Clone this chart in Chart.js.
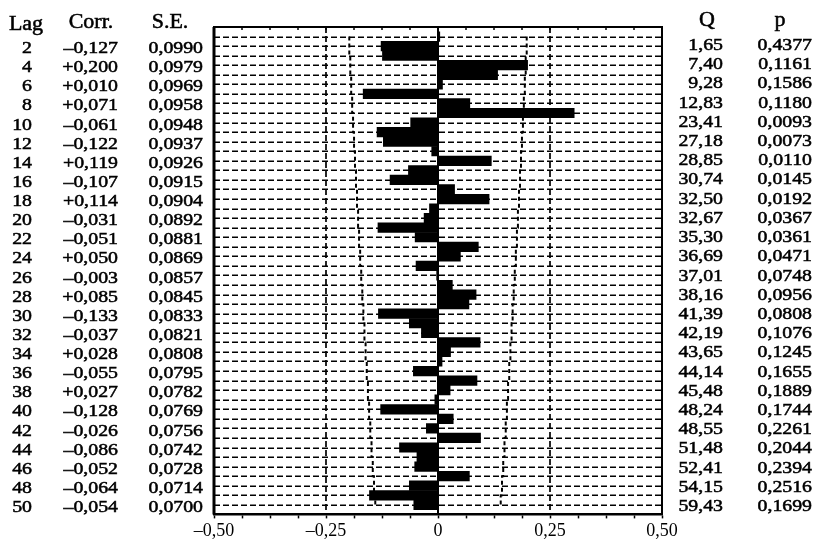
<!DOCTYPE html>
<html>
<head>
<meta charset="utf-8">
<script src="https://cdn.jsdelivr.net/npm/chart.js@4.4.1/dist/chart.umd.min.js"></script>
<style>
  html, body { margin: 0; padding: 0; background: #fff; }
  #wrap { width: 816px; height: 548px; position: relative; }
</style>
</head>
<body>
<div id="wrap"><canvas id="acf" width="816" height="548"></canvas></div>
<script>
// Autocorrelation function, lags 1..50 (table lists every second lag)
const tableLags = [2, 4, 6, 8, 10, 12, 14, 16, 18, 20, 22, 24, 26, 28, 30, 32, 34, 36, 38, 40, 42, 44, 46, 48, 50];
const corrTable = [-0.127, 0.200, 0.010, 0.071, -0.061, -0.122, 0.119, -0.107, 0.114, -0.031, -0.051, 0.050, -0.003,
                   0.085, -0.133, -0.037, 0.028, -0.055, 0.027, -0.128, -0.026, -0.086, -0.052, -0.064, -0.054];
const seTable = [0.0990, 0.0979, 0.0969, 0.0958, 0.0948, 0.0937, 0.0926, 0.0915, 0.0904, 0.0892, 0.0881, 0.0869, 0.0857,
                 0.0845, 0.0833, 0.0821, 0.0808, 0.0795, 0.0782, 0.0769, 0.0756, 0.0742, 0.0728, 0.0714, 0.0700];
const qTable = [1.65, 7.40, 9.28, 12.83, 23.41, 27.18, 28.85, 30.74, 32.50, 32.67, 35.30, 36.69, 37.01,
                38.16, 41.39, 42.19, 43.65, 44.14, 45.48, 48.24, 48.55, 51.48, 52.41, 54.15, 59.43];
const pTable = [0.4377, 0.1161, 0.1586, 0.1180, 0.0093, 0.0073, 0.0110, 0.0145, 0.0192, 0.0367, 0.0361, 0.0471, 0.0748,
                0.0956, 0.0808, 0.1076, 0.1245, 0.1655, 0.1889, 0.1744, 0.2261, 0.2044, 0.2394, 0.2516, 0.1699];
// Correlations at the odd lags 1, 3, ..., 49 (bars only, not listed in the table)
const oddLagCorr = [0.004, -0.124, 0.133, -0.167, 0.304, -0.136, -0.014, -0.066, 0.037, -0.019, -0.134, 0.090, -0.049,
                    0.032, 0.069, -0.064, 0.094, 0.009, 0.087, -0.007, 0.034, 0.095, -0.047, 0.070, -0.153];
const xTickValues = [-0.5, -0.25, 0, 0.25, 0.5];
const maxLag = 50;

// Interleave odd and even lags into one series
const lagsAll = [], corrAll = [];
tableLags.forEach((lag, i) => {
  lagsAll.push(lag - 1, lag);
  corrAll.push(oddLagCorr[i], corrTable[i]);
});

// ±2·S.E. confidence limits as a stepped line
function bandPoints(sign) {
  const pts = [];
  tableLags.forEach((lag, i) => {
    const v = sign * 2 * seTable[i];
    pts.push({ x: v, y: lag - 1 });
    pts.push({ x: v, y: Math.min(lag + 1, maxLag) });
  });
  return pts;
}

const SERIF = '"Liberation Serif", "Times New Roman", serif';
const dash = s => s.replace('-', '\u2013');
const fmtNum = (v, d) => dash(v.toFixed(d)).replace('.', ',');
const fmtCorr = v => (v >= 0 ? '+' : '\u2013') + Math.abs(v).toFixed(3).replace('.', ',');
const fmtAxis = v => v === 0 ? '0' : (v < 0 ? '\u2013' : '') + Math.abs(v).toFixed(2).replace('.', ',');

function wideText(ctx, str, x, y, align, sx) {
  ctx.save();
  ctx.translate(x, y);
  ctx.scale(sx, 1);
  ctx.textAlign = align;
  ctx.textBaseline = 'alphabetic';
  ctx.fillText(str, 0, 0);
  ctx.strokeText(str, 0, 0);
  ctx.restore();
}

const framePlugin = {
  id: 'acfFrame',
  beforeDatasetsDraw(chart) {
    const { ctx, chartArea: a, scales: { x, y } } = chart;
    ctx.save();
    ctx.strokeStyle = '#000';
    ctx.lineWidth = 1.7;
    ctx.setLineDash([6, 3]);
    for (let lag = 1; lag <= maxLag; lag++) {
      const py = Math.round(y.getPixelForValue(lag)) + 0.25;
      ctx.beginPath();
      ctx.moveTo(a.left, py);
      ctx.lineTo(a.right, py);
      ctx.stroke();
    }
    [-0.25, 0.25].forEach(v => {
      const px = x.getPixelForValue(v);
      ctx.beginPath();
      ctx.moveTo(px, a.top);
      ctx.lineTo(px, a.bottom);
      ctx.stroke();
    });
    ctx.restore();
  },
  afterDatasetsDraw(chart) {
    const { ctx, chartArea: a, scales: { x } } = chart;
    ctx.save();
    ctx.strokeStyle = '#000';
    // zero line
    ctx.lineWidth = 2;
    const z = x.getPixelForValue(0);
    ctx.beginPath();
    ctx.moveTo(z, a.top);
    ctx.lineTo(z, a.bottom);
    ctx.stroke();
    // frame
    ctx.lineWidth = 2;
    ctx.beginPath();
    ctx.moveTo(a.left, a.bottom);
    ctx.lineTo(a.left, a.top);
    ctx.lineTo(a.right, a.top);
    ctx.lineTo(a.right, a.bottom);
    ctx.stroke();
    ctx.lineWidth = 3;
    ctx.beginPath();
    ctx.moveTo(a.left, a.bottom);
    ctx.lineTo(a.left, a.top);
    ctx.stroke();
    // small inward ticks on the top edge
    ctx.lineWidth = 1.5;
    x.ticks.forEach(t => {
      const px = x.getPixelForValue(t.value);
      ctx.beginPath();
      ctx.moveTo(px, a.top);
      ctx.lineTo(px, a.top + 3);
      ctx.stroke();
    });
    ctx.restore();
  },
  afterDraw(chart) {
    const { ctx } = chart;
    ctx.save();
    ctx.fillStyle = '#000';
    ctx.strokeStyle = '#000';
    ctx.lineWidth = 0.5;
    // headers
    ctx.font = '20px ' + SERIF;
    wideText(ctx, 'Lag', 26, 30, 'center', 1.1);
    wideText(ctx, 'Corr.', 91, 28, 'center', 1.1);
    wideText(ctx, 'S.E.', 170, 28, 'center', 1.1);
    wideText(ctx, 'Q', 707, 26, 'center', 1.1);
    wideText(ctx, 'p', 780, 26, 'center', 1.1);
    // table rows
    ctx.font = '16.5px ' + SERIF;
    const n = tableLags.length;
    for (let i = 0; i < n; i++) {
      const yl = 53 + i * (512 - 53) / (n - 1);
      const yr = 50 + i * (511 - 50) / (n - 1);
      wideText(ctx, String(tableLags[i]), 32, yl, 'right', 1.2);
      wideText(ctx, fmtCorr(corrTable[i]), 118, yl, 'right', 1.2);
      wideText(ctx, fmtNum(seTable[i], 4), 203, yl, 'right', 1.2);
      wideText(ctx, fmtNum(qTable[i], 2), 723, yr, 'right', 1.2);
      wideText(ctx, fmtNum(pTable[i], 4), 812, yr, 'right', 1.2);
    }
    ctx.restore();
  }
};

new Chart(document.getElementById('acf'), {
  type: 'bar',
  data: {
    datasets: [
      {
        type: 'bar',
        data: lagsAll.map((lag, i) => ({ x: corrAll[i], y: lag })),
        backgroundColor: '#000',
        borderWidth: 0,
        barPercentage: 1,
        categoryPercentage: 1,
        order: 0
      },
      {
        type: 'line',
        data: bandPoints(1),
        borderColor: '#000',
        borderWidth: 2,
        borderDash: [4, 3],
        pointRadius: 0,
        fill: false,
        order: 1
      },
      {
        type: 'line',
        data: bandPoints(-1),
        borderColor: '#000',
        borderWidth: 2,
        borderDash: [4, 3],
        pointRadius: 0,
        fill: false,
        order: 1
      }
    ]
  },
  options: {
    indexAxis: 'y',
    responsive: false,
    animation: false,
    devicePixelRatio: 1,
    layout: { padding: { left: 214, right: 154, top: 27, bottom: 4 } },
    plugins: { legend: { display: false }, tooltip: { enabled: false } },
    scales: {
      x: {
        type: 'linear',
        position: 'bottom',
        min: -0.5,
        max: 0.5,
        afterBuildTicks(scale) {
          const ticks = [];
          for (let i = 0; i <= 16; i++) ticks.push({ value: -0.5 + i * 0.0625 });
          scale.ticks = ticks;
        },
        grid: {
          drawOnChartArea: false,
          drawTicks: true,
          tickLength: 4,
          tickColor: '#000',
          tickWidth: 1.5
        },
        border: { display: true, color: '#000', width: 2.5 },
        ticks: {
          autoSkip: false,
          maxRotation: 0,
          minRotation: 0,
          padding: 2,
          color: '#000',
          font: { family: SERIF, size: 18 },
          callback(value) {
            return xTickValues.some(t => Math.abs(t - value) < 1e-9) ? fmtAxis(value) : '';
          }
        }
      },
      y: {
        type: 'linear',
        display: false,
        offset: false,
        min: 0,
        max: 51,
        reverse: true
      }
    }
  },
  plugins: [framePlugin]
});
</script>
</body>
</html>
